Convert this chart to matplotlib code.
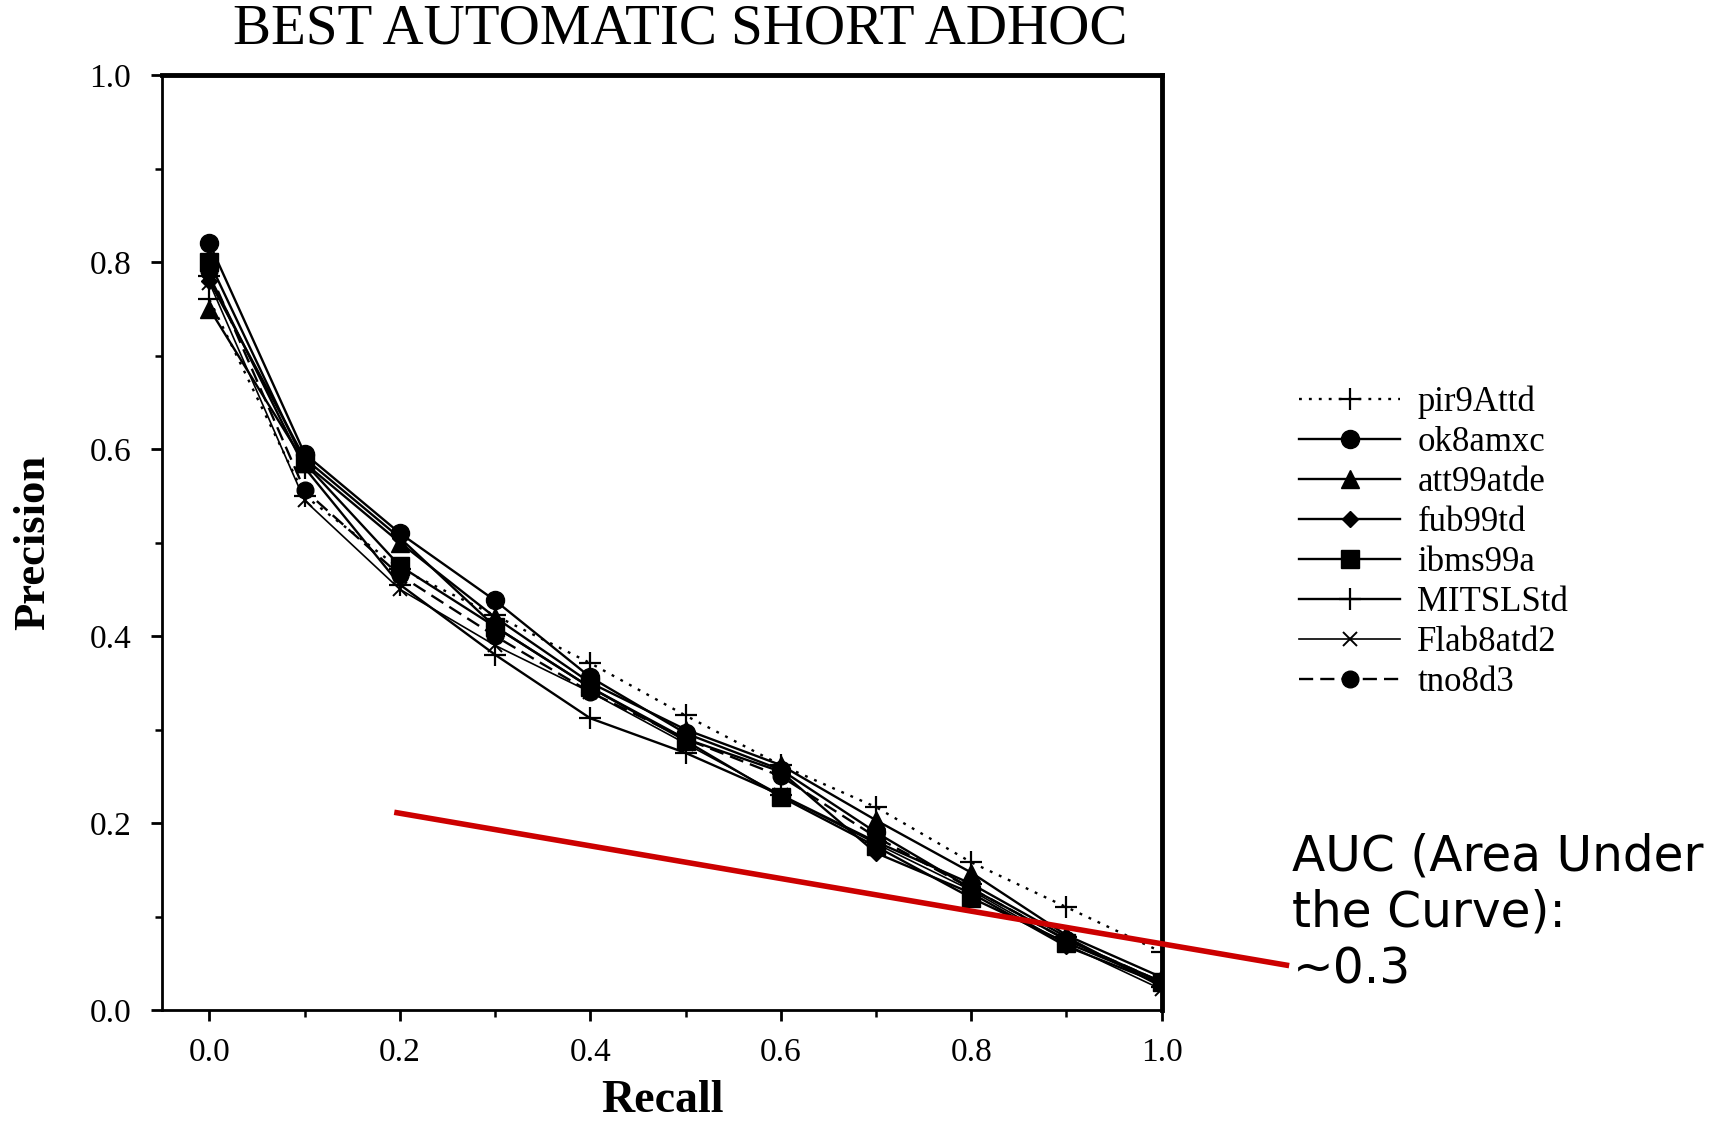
import numpy as np
import matplotlib
matplotlib.use('Agg')
import matplotlib.pyplot as plt

recall = [0.0, 0.1, 0.2, 0.3, 0.4, 0.5, 0.6, 0.7, 0.8, 0.9, 1.0]

pir9Attd  = [0.760, 0.550, 0.472, 0.422, 0.371, 0.315, 0.262, 0.217, 0.158, 0.110, 0.062]
ok8amxc   = [0.820, 0.595, 0.510, 0.438, 0.356, 0.296, 0.257, 0.190, 0.130, 0.075, 0.030]
att99atde = [0.750, 0.585, 0.500, 0.420, 0.350, 0.300, 0.262, 0.203, 0.147, 0.080, 0.035]
fub99td   = [0.780, 0.590, 0.505, 0.410, 0.345, 0.290, 0.255, 0.168, 0.125, 0.068, 0.028]
ibms99a   = [0.800, 0.585, 0.475, 0.410, 0.345, 0.288, 0.228, 0.175, 0.120, 0.072, 0.030]
MITSLStd  = [0.785, 0.580, 0.455, 0.380, 0.312, 0.275, 0.230, 0.180, 0.135, 0.078, 0.025]
Flab8atd2 = [0.778, 0.545, 0.450, 0.390, 0.340, 0.285, 0.230, 0.178, 0.128, 0.070, 0.022]
tno8d3    = [0.790, 0.556, 0.465, 0.400, 0.340, 0.290, 0.250, 0.185, 0.130, 0.075, 0.030]

# red AUC pointer line (data coords)
auc_x = [0.197, 1.131]
auc_y = [0.211, 0.048]

plt.rcParams['font.family'] = ['Liberation Serif', 'DejaVu Serif']

fig = plt.figure(figsize=(17.21, 11.23), dpi=100)
ax = fig.add_axes([0.094, 0.1006, 0.581, 0.8326])

lw = 1.7
ax.plot(recall, pir9Attd, color='black', lw=lw, ls=(0, (1.2, 3.0)), marker='+', ms=16, mew=1.6, label='pir9Attd')
ax.plot(recall, ok8amxc, color='black', lw=lw, marker='o', ms=13, label='ok8amxc')
ax.plot(recall, att99atde, color='black', lw=lw, marker='^', ms=13, label='att99atde')
ax.plot(recall, fub99td, color='black', lw=lw, marker='D', ms=8, label='fub99td')
ax.plot(recall, ibms99a, color='black', lw=lw, marker='s', ms=13, label='ibms99a')
ax.plot(recall, MITSLStd, color='black', lw=lw, marker='+', ms=16, mew=1.6, label='MITSLStd')
ax.plot(recall, Flab8atd2, color='black', lw=1.2, marker='x', ms=10, mew=1.4, label='Flab8atd2')
ax.plot(recall, tno8d3, color='black', lw=lw, ls=(0, (6, 3)), marker='o', ms=12, label='tno8d3')

ax.plot(auc_x, auc_y, color='#cc0000', lw=4, clip_on=False, zorder=5)

ax.set_xlim(-0.05, 1.0)
ax.set_ylim(0.0, 1.0)
ax.set_xticks(np.arange(0, 1.01, 0.2))
ax.set_xticks(np.arange(0.1, 1.0, 0.2), minor=True)
ax.set_yticks(np.arange(0, 1.01, 0.2))
ax.set_yticks(np.arange(0.1, 1.0, 0.2), minor=True)
ax.set_xticklabels(['0.0', '0.2', '0.4', '0.6', '0.8', '1.0'])
ax.set_yticklabels(['0.0', '0.2', '0.4', '0.6', '0.8', '1.0'])
ax.tick_params(which='major', direction='out', length=8, width=2, labelsize=24)
ax.tick_params(axis='y', which='major', pad=14)
ax.tick_params(axis='x', which='major', pad=12)
ax.tick_params(which='minor', direction='out', length=5, width=1.8)

ax.spines['left'].set_linewidth(2)
ax.spines['bottom'].set_linewidth(2)
ax.spines['top'].set_linewidth(3.5)
ax.spines['right'].set_linewidth(3.5)

fig.text(0.395, 0.974, 'BEST AUTOMATIC SHORT ADHOC', ha='center', va='center', fontsize=41)
fig.text(0.019, 0.517, 'Precision', rotation=90, ha='center', va='center', fontsize=32, fontweight='bold')
fig.text(0.385, 0.0196, 'Recall', ha='center', va='center', fontsize=33, fontweight='bold')

fig.legend(loc='center left', bbox_to_anchor=(0.755, 0.517), bbox_transform=fig.transFigure,
           frameon=False, fontsize=25, handlelength=2.9, handletextpad=0.5,
           labelspacing=0.2, borderpad=0, borderaxespad=0)

fig.text(0.751, 0.187, 'AUC (Area Under\nthe Curve):\n~0.3', ha='left', va='center',
         fontsize=35, family='DejaVu Sans', linespacing=1.22)

fig.savefig('out.png', dpi=100)
